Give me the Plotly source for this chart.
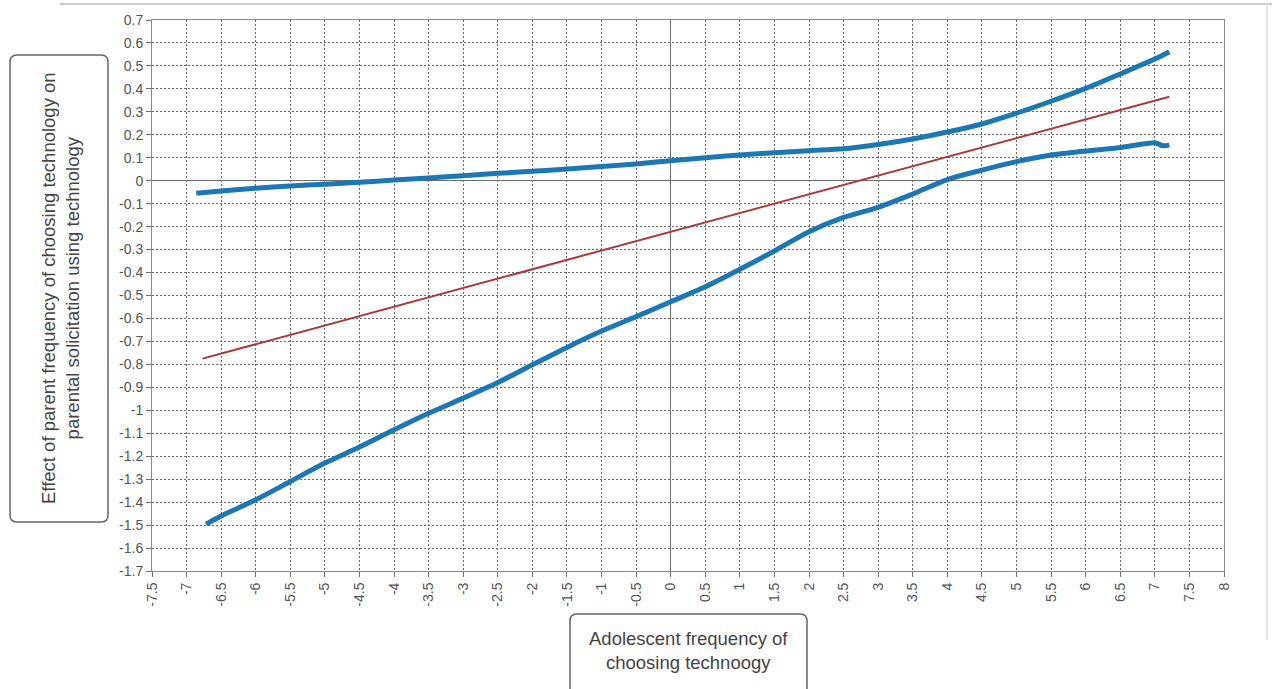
import plotly.graph_objects as go

# ---------------- data ----------------
x_upper = [-6.86, -6.5, -6, -5.5, -5, -4.5, -4, -3.5, -3, -2.5, -2, -1.5, -1, -0.5, 0,
           0.5, 1, 1.5, 2, 2.5, 3, 3.5, 4, 4.5, 5, 5.5, 6, 6.5, 7, 7.21]
y_upper = [-0.055, -0.045, -0.033, -0.023, -0.015, -0.007, 0.003, 0.012, 0.022, 0.032, 0.041,
           0.051, 0.062, 0.073, 0.087, 0.100, 0.112, 0.122, 0.131, 0.139, 0.158, 0.182, 0.212,
           0.247, 0.294, 0.346, 0.402, 0.465, 0.530, 0.562]

x_lower = [-6.72, -6.5, -6, -5.5, -5, -4.5, -4, -3.5, -3, -2.5, -2, -1.5, -1, -0.5, 0,
           0.5, 1, 1.5, 2, 2.5, 3, 3.5, 4, 4.5, 5, 5.5, 6, 6.5, 7, 7.05, 7.12, 7.21]
y_lower = [-1.496, -1.46, -1.39, -1.31, -1.23, -1.16, -1.085, -1.013, -0.947, -0.879, -0.802,
           -0.726, -0.655, -0.592, -0.527, -0.462, -0.386, -0.306, -0.222, -0.160, -0.116,
           -0.058, 0.005, 0.046, 0.083, 0.112, 0.129, 0.145, 0.165, 0.160, 0.152, 0.155]

x_effect = [-6.77, 7.21]
y_effect = [-0.775, 0.366]

x_tickvals = [-7.5 + 0.5 * i for i in range(32)]
x_ticktext = ["-7.5", "-7", "-6.5", "-6", "-5.5", "-5", "-4.5", "-4", "-3.5", "-3", "-2.5", "-2",
              "-1.5", "-1", "-0.5", "0", "0.5", "1", "1.5", "2", "2.5", "3", "3.5", "4", "4.5",
              "5", "5.5", "6", "6.5", "7", "7.5", "8"]
y_tickvals = [round(0.7 - 0.1 * i, 1) for i in range(25)]
y_ticktext = ["0.7", "0.6", "0.5", "0.4", "0.3", "0.2", "0.1", "0", "-0.1", "-0.2", "-0.3", "-0.4",
              "-0.5", "-0.6", "-0.7", "-0.8", "-0.9", "-1", "-1.1", "-1.2", "-1.3", "-1.4", "-1.5",
              "-1.6", "-1.7"]

y_title = "Effect of parent frequency of choosing technology on<br>parental solicitation using technology"
x_title = "Adolescent frequency of<br>choosing technoogy"

# ---------------- layout helpers ----------------
W, H = 1272, 689
L, R, T, B = 152, 48, 20, 118
PW, PH = W - L - R, H - T - B


def px_x(p):
    return (p - L) / PW


def px_y(p):
    return (H - B - p) / PH


def rounded_box(x0, y0, x1, y1, r=6):
    pts = []
    pts.append(f"M {px_x(x0 + r)},{px_y(y0)}")
    pts.append(f"L {px_x(x1 - r)},{px_y(y0)}")
    pts.append(f"Q {px_x(x1)},{px_y(y0)} {px_x(x1)},{px_y(y0 + r)}")
    pts.append(f"L {px_x(x1)},{px_y(y1 - r)}")
    pts.append(f"Q {px_x(x1)},{px_y(y1)} {px_x(x1 - r)},{px_y(y1)}")
    pts.append(f"L {px_x(x0 + r)},{px_y(y1)}")
    pts.append(f"Q {px_x(x0)},{px_y(y1)} {px_x(x0)},{px_y(y1 - r)}")
    pts.append(f"L {px_x(x0)},{px_y(y0 + r)}")
    pts.append(f"Q {px_x(x0)},{px_y(y0)} {px_x(x0 + r)},{px_y(y0)} Z")
    return " ".join(pts)


BLUE = "#1c77b2"
RED = "#a8393d"

fig = go.Figure()
fig.add_trace(go.Scatter(x=x_upper, y=y_upper, mode="lines",
                         line=dict(color=BLUE, width=5, shape="spline", smoothing=0.8),
                         showlegend=False, hoverinfo="skip"))
fig.add_trace(go.Scatter(x=x_lower, y=y_lower, mode="lines",
                         line=dict(color=BLUE, width=5, shape="spline", smoothing=0.8),
                         showlegend=False, hoverinfo="skip"))
fig.add_trace(go.Scatter(x=x_effect, y=y_effect, mode="lines",
                         line=dict(color=RED, width=2),
                         showlegend=False, hoverinfo="skip"))

axis_common = dict(
    showgrid=True, gridcolor="#6a6a6a", gridwidth=1, griddash="2px,2px",
    zeroline=True, zerolinecolor="#707070", zerolinewidth=1,
    showline=True, linecolor="#8a8a8a", linewidth=1, mirror=True,
    ticks="outside", ticklen=5, tickcolor="#707070",
    tickfont=dict(family="Liberation Sans, Arial, sans-serif", size=14, color="#555555"),
    tickmode="array",
)

fig.update_xaxes(range=[-7.5, 8], tickvals=x_tickvals, ticktext=x_ticktext, tickangle=-90,
                 **axis_common)
fig.update_yaxes(range=[-1.7, 0.7], tickvals=y_tickvals, ticktext=y_ticktext, **axis_common)

shapes = [
    dict(type="line", xref="paper", yref="paper", x0=px_x(60), x1=px_x(1272),
         y0=px_y(4), y1=px_y(4), line=dict(color="#b8b8b8", width=1.5), layer="below"),
    dict(type="line", xref="paper", yref="paper", x0=px_x(1267), x1=px_x(1267),
         y0=px_y(4), y1=px_y(640), line=dict(color="#dde6ee", width=2), layer="below"),
    dict(type="path", xref="paper", yref="paper", path=rounded_box(10, 55, 108, 522, 7),
         line=dict(color="#666666", width=1.5), fillcolor="white"),
    dict(type="path", xref="paper", yref="paper", path=rounded_box(570, 614, 807, 700, 7),
         line=dict(color="#666666", width=1.5), fillcolor="white"),
]

annotations = [
    dict(text=y_title, xref="paper", yref="paper", x=px_x(60), y=px_y(288),
         xanchor="center", yanchor="middle", showarrow=False, textangle=-90,
         font=dict(family="Liberation Sans, Arial, sans-serif", size=18.5, color="#444444")),
    dict(text=x_title, xref="paper", yref="paper", x=px_x(688), y=px_y(650),
         xanchor="center", yanchor="middle", showarrow=False,
         font=dict(family="Liberation Sans, Arial, sans-serif", size=18.5, color="#444444")),
]

fig.update_layout(
    width=W, height=H,
    margin=dict(l=L, r=R, t=T, b=B, autoexpand=False),
    paper_bgcolor="white", plot_bgcolor="white",
    shapes=shapes, annotations=annotations,
    showlegend=False,
)

fig.write_html(
    "out.html",
    config={"displayModeBar": False},
    post_script="document.body.style.margin='0';document.body.style.overflow='hidden';",
)
